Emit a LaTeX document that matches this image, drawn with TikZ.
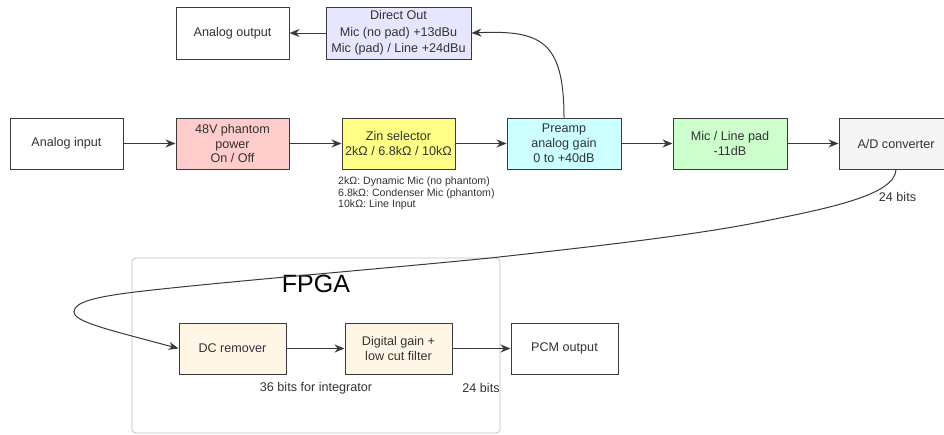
\documentclass[tikz,border=0pt]{standalone}
\usepackage{fontspec}
\setmainfont{Liberation Sans}
\usetikzlibrary{arrows.meta}
\definecolor{txt}{HTML}{333333}
\definecolor{bord}{HTML}{3A3A3A}
\definecolor{redf}{HTML}{FFCCCC}
\definecolor{yelf}{HTML}{FFFF88}
\definecolor{cyaf}{HTML}{CCFFFF}
\definecolor{grnf}{HTML}{CCFFCC}
\definecolor{gryf}{HTML}{F5F5F5}
\definecolor{purf}{HTML}{E6E6FF}
\definecolor{crmf}{HTML}{FFF6E6}
\tikzset{
  blk/.style={draw=bord, line width=1pt, rectangle, inner sep=0pt, align=center,
    text=txt, font=\fontsize{12.6}{14.8}\selectfont},
  conn/.style={draw=bord, line width=1pt, -{Stealth[length=10pt,width=8pt]}},
  lbl/.style={text=txt, inner sep=0pt, font=\fontsize{12.6}{14.8}\selectfont},
}
\begin{document}
\begin{tikzpicture}[x=1pt,y=-1pt]
\clip (0,0) rectangle (944,434);
\fill[white] (0,0) rectangle (944,434);
% FPGA container
\draw[draw=black!25, line width=0.8pt, rounded corners=4pt] (132,258) rectangle (500,433);
\node[text=black, font=\fontsize{25}{28}\selectfont, inner sep=0pt] (fpga) at (316,284) {FPGA};
% top row
\node[blk, minimum width=113pt, minimum height=52pt] (aout) at (232.5,33) {Analog output};
\node[blk, fill=purf, minimum width=145pt, minimum height=52pt, font=\fontsize{12.6}{16.3}\selectfont] (dout) at (398.5,33) {Direct Out\\Mic (no pad) +13dBu\\Mic (pad) / Line +24dBu};
% middle row
\node[blk, minimum width=113pt, minimum height=51pt] (ain) at (66.5,143.5) {Analog input};
\node[blk, fill=redf, minimum width=113pt, minimum height=51pt] (ph) at (232.5,143.5) {48V phantom\\power\\On / Off};
\node[blk, fill=yelf, minimum width=113pt, minimum height=51pt] (zin) at (398.5,143.5) {Zin selector\\2kΩ / 6.8kΩ / 10kΩ};
\node[blk, fill=cyaf, minimum width=114pt, minimum height=51pt] (pre) at (564,143.5) {Preamp\\analog gain\\0 to +40dB};
\node[blk, fill=grnf, minimum width=114pt, minimum height=51pt] (pad) at (730,143.5) {Mic / Line pad\\-11dB};
\node[blk, fill=gryf, minimum width=114pt, minimum height=51pt] (ad) at (896,143.5) {A/D converter};
% notes
\node[text=txt, inner sep=0pt, anchor=north west, align=left, font=\fontsize{10.6}{11.4}\selectfont] (notes) at (338,177) {2kΩ: Dynamic Mic (no phantom)\\6.8kΩ: Condenser Mic (phantom)\\10kΩ: Line Input};
\node[lbl] (b24a) at (897.5,197) {24 bits};
% bottom row
\node[blk, fill=crmf, minimum width=107pt, minimum height=51pt] (dc) at (232.5,348.5) {DC remover};
\node[blk, fill=crmf, minimum width=107pt, minimum height=51pt] (dg) at (398.5,348.5) {Digital gain +\\low cut filter};
\node[blk, minimum width=107pt, minimum height=51pt] (pcm) at (564.5,348.5) {PCM output};
\node[lbl] (b36) at (316,388) {36 bits for integrator};
\node[lbl] (b24b) at (481,388) {24 bits};
% connectors
\draw[conn] (ain) -- (ph);
\draw[conn] (ph) -- (zin);
\draw[conn] (zin) -- (pre);
\draw[conn] (pre) -- (pad);
\draw[conn] (pad) -- (ad);
\draw[conn] (dout) -- (aout);
\draw[conn] (pre.north) .. controls (564,40) and (540,30) .. (dout.east);
\draw[conn] (dc) -- (dg);
\draw[conn] (dg) -- (pcm);
\draw[conn] (ad.south) .. controls (895,195) and (830,208) .. (760,222)
  .. controls (690,236) and (580,248) .. (490,258)
  .. controls (380,269) and (220,282) .. (135,292)
  .. controls (95,297) and (74,302) .. (74,312)
  .. controls (74,322) and (110,330) .. (dc.west);
\end{tikzpicture}
\end{document}
